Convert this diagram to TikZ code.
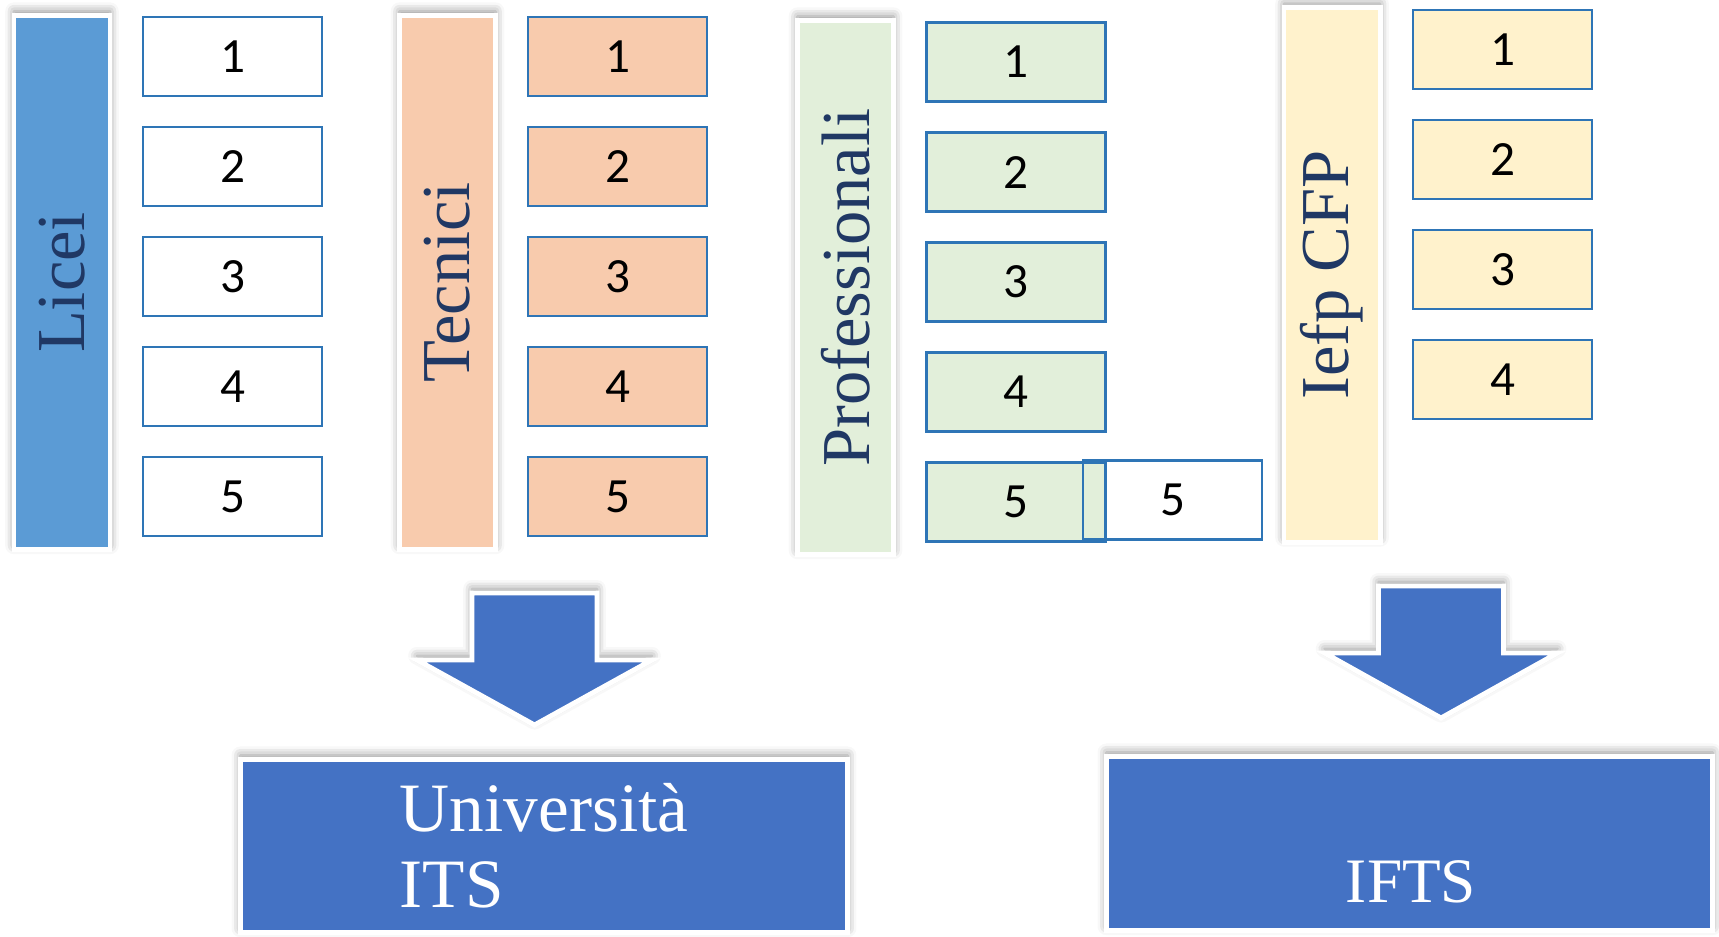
\documentclass[tikz,border=0pt]{standalone}
\usepackage{fontspec}
\setmainfont{Liberation Serif}
\newfontfamily\digitfont{Carlito}
\usepackage{graphicx}
\usepackage{tikz}
\usetikzlibrary{positioning,shadows.blur}
\definecolor{liceiblue}{HTML}{5B9BD5}
\definecolor{tecnicisalmon}{HTML}{F8CBAD}
\definecolor{profgreen}{HTML}{E2EFDA}
\definecolor{iefpcream}{HTML}{FFF2CC}
\definecolor{boxline}{HTML}{2E75B6}
\definecolor{exitblue}{HTML}{4472C4}
\definecolor{labelnavy}{HTML}{203864}
\tikzset{%
  softshadow/.style = {blur shadow={shadow xshift=0pt, shadow yshift=1.2pt,%
                       shadow blur radius=2.5pt, shadow opacity=45}},%
  school/.style     = {shape=rectangle, draw=white, line width=1.4pt, softshadow,%
                       minimum width=0.96cm, minimum height=5.34cm, inner sep=0pt,%
                       text=labelnavy, font=\fontsize{19.5}{22}\selectfont},%
  yearbox/.style    = {shape=rectangle, draw=boxline, line width=0.7pt,%
                       minimum width=1.79cm, minimum height=0.79cm, inner sep=0pt,%
                       font=\digitfont\fontsize{14}{16}\selectfont},%
  outlet/.style     = {shape=rectangle, fill=exitblue, draw=white, line width=1.4pt,%
                       softshadow, text=white, align=left,%
                       font=\fontsize{19.7}{21.5}\selectfont},%
  flow/.style       = {fill=exitblue, draw=white, line width=1.4pt, softshadow}%
}
\begin{document}
\begin{tikzpicture}[x=0.01cm, y=-0.01cm]
  \useasboundingbox (0,0) rectangle (1719,936);
  % school types
  \node[school, fill=liceiblue]     (licei) at (62,282.5)   {\rotatebox{90}{Licei}};
  \node[school, fill=tecnicisalmon] (tecn)  at (447.5,282.5) {\rotatebox{90}{Tecnici}};
  \node[school, fill=profgreen]     (prof)  at (845.5,287.5) {\rotatebox{90}{Professionali}};
  \node[school, fill=iefpcream]     (iefp)  at (1332,275)    {\rotatebox{90}{Iefp CFP}};

  % years, licei
  \node[yearbox] (l1) at (232.5,56.5) {1};
  \node[yearbox, below=0.285cm of l1] (l2) {2};
  \node[yearbox, below=0.285cm of l2] (l3) {3};
  \node[yearbox, below=0.285cm of l3] (l4) {4};
  \node[yearbox, below=0.285cm of l4] (l5) {5};
  % years, tecnici
  \node[yearbox, fill=tecnicisalmon] (t1) at (617.5,56.5) {1};
  \node[yearbox, fill=tecnicisalmon, below=0.285cm of t1] (t2) {2};
  \node[yearbox, fill=tecnicisalmon, below=0.285cm of t2] (t3) {3};
  \node[yearbox, fill=tecnicisalmon, below=0.285cm of t3] (t4) {4};
  \node[yearbox, fill=tecnicisalmon, below=0.285cm of t4] (t5) {5};
  % years, professionali
  \node[yearbox, fill=profgreen] (p1) at (1016,62) {1};
  \node[yearbox, fill=profgreen, below=0.285cm of p1] (p2) {2};
  \node[yearbox, fill=profgreen, below=0.285cm of p2] (p3) {3};
  \node[yearbox, fill=profgreen, below=0.285cm of p3] (p4) {4};
  \node[yearbox, fill=profgreen, below=0.285cm of p4] (p5) {5};
  \node[yearbox, right=-0.25cm of p5, yshift=0.02cm] (p5b) {5};
  % years, iefp
  \node[yearbox, fill=iefpcream] (c1) at (1502.5,49.5) {1};
  \node[yearbox, fill=iefpcream, below=0.285cm of c1] (c2) {2};
  \node[yearbox, fill=iefpcream, below=0.285cm of c2] (c3) {3};
  \node[yearbox, fill=iefpcream, below=0.285cm of c3] (c4) {4};

  % where they lead
  \draw[flow] (472,593) -- (597,593) -- (597,660) -- (652,660) -- (534.5,725)
              -- (417,660) -- (472,660) -- cycle;
  \draw[flow] (1378.5,586) -- (1503.5,586) -- (1503.5,653) -- (1557.5,653) -- (1441,718)
              -- (1324.5,653) -- (1378.5,653) -- cycle;
  \node[outlet, minimum width=6.07cm, minimum height=1.73cm] (uni) at (544,846) {Università\\ITS};
  \node[outlet, minimum width=6.06cm, minimum height=1.74cm] (ifts) at (1409.5,843.5) {};
  \node[text=white, font=\fontsize{18}{20}\selectfont] (iftslabel) at (1411,882) {IFTS};
\end{tikzpicture}
\end{document}
